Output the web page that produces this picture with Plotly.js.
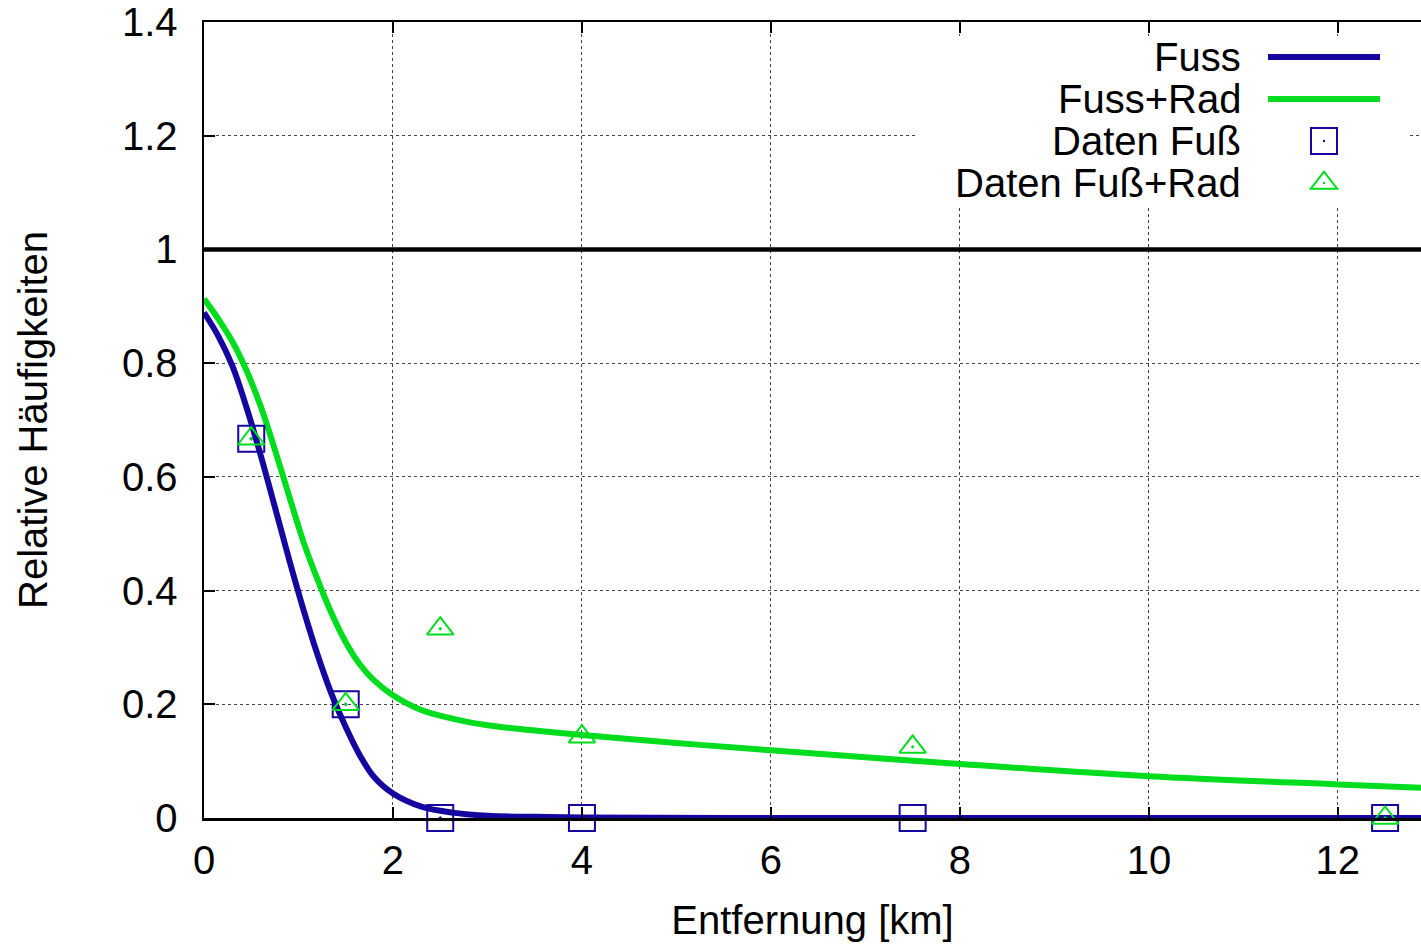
<!DOCTYPE html>
<html>
<head>
<meta charset="utf-8">
<script src="https://cdn.plot.ly/plotly-3.0.1.min.js"></script>
<style>
  html, body { margin: 0; padding: 0; background: #ffffff; }
  #chart { width: 1421px; height: 948px; }
</style>
</head>
<body>
<div id="chart"></div>
<script>
// ---- data ----
const seriesNames = ["Fuss", "Fuss+Rad", "Daten Fuß", "Daten Fuß+Rad"];

const fussX = [0, 0.15, 0.3, 0.45, 0.6, 0.75, 0.9, 1.05, 1.2, 1.35, 1.5, 1.65, 1.8, 2.0, 2.3, 2.65, 3.0, 3.5, 4, 6, 9, 12.88];
const fussY = [0.889, 0.848, 0.795, 0.722, 0.638, 0.547, 0.455, 0.368, 0.288, 0.218, 0.160, 0.110, 0.072, 0.043, 0.020, 0.009, 0.004, 0.002, 0.001, 0, 0, 0];

const radX = [0, 0.15, 0.3, 0.45, 0.6, 0.75, 0.9, 1.05, 1.2, 1.35, 1.5, 1.65, 1.8, 2.0, 2.3, 2.65, 3.0, 3.5, 4, 5, 6, 7, 8, 10, 12, 12.88];
const radY = [0.913, 0.878, 0.838, 0.787, 0.724, 0.648, 0.567, 0.487, 0.420, 0.360, 0.309, 0.270, 0.242, 0.216, 0.190, 0.174, 0.163, 0.154, 0.146, 0.132, 0.119, 0.107, 0.095, 0.0735, 0.059, 0.053];

const datenX = [0.5, 1.5, 2.5, 4, 7.5, 12.5];
const datenFussY = [0.667, 0.2, 0, 0, 0, 0];
const datenRadY = [0.667, 0.2, 0.333, 0.143, 0.125, 0];

const referenceLevel = 1;

const xTitle = "Entfernung [km]";
const yTitle = "Relative Häufigkeiten";

// ---- styling ----
const BLUE = "#14069e";
const GREEN = "#00dc1e";
const FONT = "Liberation Sans, Arial, Helvetica, sans-serif";

const traces = [
  { x: fussX, y: fussY, mode: "lines", name: seriesNames[0], line: { color: BLUE, width: 6, shape: "spline", smoothing: 1 }, cliponaxis: false, showlegend: false },
  { x: radX, y: radY, mode: "lines", name: seriesNames[1], line: { color: GREEN, width: 6, shape: "spline", smoothing: 1 }, cliponaxis: false, showlegend: false },
  { x: datenX, y: datenFussY, mode: "markers", name: seriesNames[2], marker: { symbol: "square-open-dot", size: 26, color: BLUE, line: { color: BLUE, width: 2 } }, cliponaxis: false, showlegend: false },
  { x: datenX, y: datenRadY, mode: "markers", name: seriesNames[3], marker: { symbol: "triangle-up-open-dot", size: 23, color: GREEN, line: { color: GREEN, width: 2 } }, cliponaxis: false, showlegend: false }
];

// custom gnuplot-style legend (text on the left, sample on the right)
const legX0 = 0.5842, legX1 = 0.9885, legY0 = 0.7688, legY1 = 0.9824;
const legTextX = 0.8537;
const legRows = [0.9560, 0.9033, 0.8505, 0.7977];
const legLine0 = 0.8743, legLine1 = 0.9663, legMark = 0.9203;

const shapes = [
  { type: "line", xref: "paper", x0: 0, x1: 1, yref: "y", y0: referenceLevel, y1: referenceLevel, line: { color: "#000000", width: 4.5 }, layer: "above" },
  { type: "rect", xref: "paper", yref: "paper", x0: legX0, x1: legX1, y0: legY0, y1: legY1, fillcolor: "#ffffff", line: { width: 0 }, layer: "above" },
  { type: "line", xref: "paper", yref: "paper", x0: legLine0, x1: legLine1, y0: legRows[0], y1: legRows[0], line: { color: BLUE, width: 6 }, layer: "above" },
  { type: "line", xref: "paper", yref: "paper", x0: legLine0, x1: legLine1, y0: legRows[1], y1: legRows[1], line: { color: GREEN, width: 6 }, layer: "above" },
  { type: "rect", xref: "paper", yref: "paper", xsizemode: "pixel", ysizemode: "pixel", xanchor: legMark, yanchor: legRows[2], x0: -13, x1: 13, y0: -13, y1: 13, line: { color: BLUE, width: 2 }, fillcolor: "rgba(0,0,0,0)", layer: "above" },
  { type: "circle", xref: "paper", yref: "paper", xsizemode: "pixel", ysizemode: "pixel", xanchor: legMark, yanchor: legRows[2], x0: -1.2, x1: 1.2, y0: -1.2, y1: 1.2, line: { width: 0 }, fillcolor: BLUE, layer: "above" },
  { type: "path", xref: "paper", yref: "paper", xsizemode: "pixel", ysizemode: "pixel", xanchor: legMark, yanchor: legRows[3], path: "M -13.2,-5.7 L 13.2,-5.7 L 0,11.5 Z", line: { color: GREEN, width: 2 }, fillcolor: "rgba(0,0,0,0)", layer: "above" },
  { type: "circle", xref: "paper", yref: "paper", xsizemode: "pixel", ysizemode: "pixel", xanchor: legMark, yanchor: legRows[3], x0: -1.2, x1: 1.2, y0: -1.2, y1: 1.2, line: { width: 0 }, fillcolor: GREEN, layer: "above" }
];

const annotations = seriesNames.map((name, i) => ({
  xref: "paper", yref: "paper", x: legTextX, y: legRows[i],
  xanchor: "right", yanchor: "middle", text: name, showarrow: false,
  font: { family: FONT, size: 40, color: "#000000" }
}));

const layout = {
  width: 1421, height: 948,
  margin: { l: 204, r: 0, t: 22, b: 130, pad: 0 },
  paper_bgcolor: "#ffffff", plot_bgcolor: "#ffffff",
  font: { family: FONT, size: 40, color: "#000000" },
  showlegend: false,
  xaxis: {
    range: [0, 12.88], dtick: 2, tick0: 0,
    showline: true, linecolor: "#000000", linewidth: 2.5, mirror: "ticks",
    ticks: "inside", ticklen: 11, tickwidth: 2, tickcolor: "#000000",
    showgrid: true, gridcolor: "#444444", griddash: "dot", gridwidth: 1,
    zeroline: false, ticklabelstandoff: 5,
    tickfont: { family: FONT, size: 40, color: "#000000" },
    title: { text: xTitle, font: { family: FONT, size: 40, color: "#000000" }, standoff: 26 },
    automargin: false
  },
  yaxis: {
    range: [0, 1.4], dtick: 0.2, tick0: 0,
    showline: true, linecolor: "#000000", linewidth: 2.5, mirror: false,
    ticks: "inside", ticklen: 11, tickwidth: 2, tickcolor: "#000000",
    showgrid: true, gridcolor: "#444444", griddash: "dot", gridwidth: 1,
    zeroline: false, ticklabelstandoff: 16,
    tickfont: { family: FONT, size: 40, color: "#000000" },
    title: { text: yTitle, font: { family: FONT, size: 40, color: "#000000" }, standoff: 62 },
    automargin: false
  },
  shapes: shapes,
  annotations: annotations
};

Plotly.newPlot("chart", traces, layout, { staticPlot: true, displayModeBar: false });
</script>
</body>
</html>
